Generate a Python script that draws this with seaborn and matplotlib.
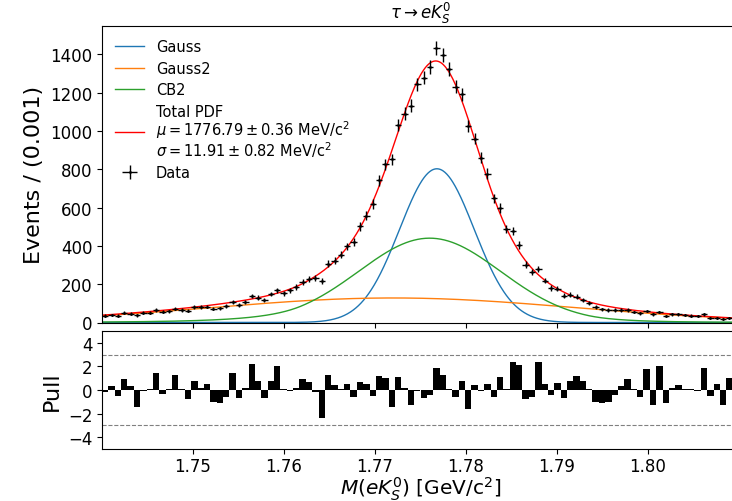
import numpy as np
import pandas as pd
import matplotlib
matplotlib.use("Agg")
import matplotlib.pyplot as plt
import seaborn as sns
from matplotlib.ticker import FixedLocator, FormatStrFormatter

# ---------------- data ----------------
x_lo, x_hi, n_bins = 1.74, 1.81, 100

counts = [36, 39, 36, 51, 46, 37, 51, 51, 65, 56,
          59, 72, 65, 62, 80, 80, 83, 72, 74, 86,
          107, 91, 107, 139, 130, 118, 148, 168, 153, 168,
          185, 210, 226, 231, 217, 306, 322, 353, 397, 418,
          502, 558, 617, 741, 825, 851, 1030, 1090, 1130, 1243,
          1278, 1334, 1432, 1397, 1322, 1231, 1191, 1025, 960, 860,
          776, 647, 598, 488, 476, 406, 301, 263, 280, 219,
          180, 176, 140, 145, 135, 118, 100, 80, 69, 65,
          65, 65, 65, 55, 48, 60, 43, 55, 34, 43,
          43, 39, 36, 34, 43, 25, 25, 17, 25, 30]

pulls = [-0.2, 0.3, -0.5, 0.9, 0.3, -1.4, -0.1, 0.05, 1.4, -0.3,
         0.05, 1.3, 0.05, -0.8, 0.8, 0.2, 0.5, -1.0, -1.1, -0.6,
         1.4, -0.7, 0.2, 2.2, 0.8, -0.7, 0.8, 2.0, 0.05, -0.05,
         0.2, 0.9, 0.7, -0.2, -2.4, 1.3, 0.4, 0.1, 0.5, -0.6,
         0.7, 0.5, -0.5, 1.2, 1.0, -1.4, 1.1, 0.2, -1.3, -0.05,
         -0.7, -0.4, 1.9, 1.3, 0.1, -0.6, 0.8, -1.6, 0.4, -0.1,
         0.5, -0.6, 1.1, 0.05, 2.4, 2.1, -0.8, -0.6, 2.4, 0.5,
         -0.4, 0.6, -0.7, 0.8, 1.2, 0.8, 0.05, -1.0, -1.1, -1.0,
         -0.4, 0.3, 0.9, 0.05, -0.6, 1.8, -1.3, 2.0, -1.1, 0.2,
         0.4, 0.1, 0.05, -0.05, 1.9, -0.5, 0.5, -1.3, 1.0, 0.5]

# fit-model parameters (events per bin)
gauss_amp, gauss_mu, gauss_sigma = 802.0, 1.7768, 0.0041
gauss2_amp, gauss2_mu, gauss2_sigma = 128.0, 1.772, 0.020
cb_amp, cb_mu, cb_sigma = 440.0, 1.7760, 0.0078
cb_aL, cb_nL, cb_aR, cb_nR = 1.8, 5.0, 2.2, 5.0

xticks = [1.75, 1.76, 1.77, 1.78, 1.79, 1.80]
yticks_top = [0, 200, 400, 600, 800, 1000, 1200, 1400]
yticks_pull = [-4, -2, 0, 2, 4]

legend_total = ("Total PDF\n"
                r"$\mu = 1776.79 \pm 0.36$ MeV/c$^2$" "\n"
                r"$\sigma = 11.91 \pm 0.82$ MeV/c$^2$")


def gauss(x, a, m, s):
    return a * np.exp(-0.5 * ((x - m) / s) ** 2)


def dcb(x, a, m, s, aL, nL, aR, nR):
    t = (x - m) / s
    out = np.exp(-0.5 * t ** 2)
    AL = (nL / aL) ** nL * np.exp(-0.5 * aL ** 2)
    BL = nL / aL - aL
    AR = (nR / aR) ** nR * np.exp(-0.5 * aR ** 2)
    BR = nR / aR - aR
    lm = t < -aL
    rm = t > aR
    out[lm] = AL * (BL - t[lm]) ** (-nL)
    out[rm] = AR * (BR + t[rm]) ** (-nR)
    return a * out


edges = np.linspace(x_lo, x_hi, n_bins + 1)
centers = 0.5 * (edges[1:] + edges[:-1])
bw = edges[1] - edges[0]
counts = np.array(counts, dtype=float)
errs = np.sqrt(counts)

xf = np.linspace(x_lo, x_hi, 1000)
g1 = gauss(xf, gauss_amp, gauss_mu, gauss_sigma)
g2 = gauss(xf, gauss2_amp, gauss2_mu, gauss2_sigma)
cb = dcb(xf, cb_amp, cb_mu, cb_sigma, cb_aL, cb_nL, cb_aR, cb_nR)
tot = g1 + g2 + cb

curves = pd.DataFrame({"x": np.concatenate([xf] * 4),
                       "y": np.concatenate([g1, g2, cb, tot]),
                       "comp": ["Gauss"] * len(xf) + ["Gauss2"] * len(xf)
                       + ["CB2"] * len(xf) + [legend_total] * len(xf)})

# ---------------- figure ----------------
W, H = 732, 502
fig = plt.figure(figsize=(W / 100, H / 100), dpi=100)
ax_l, ax_r = 102, 739
ax = fig.add_axes([ax_l / W, (H - 323.5) / H, (ax_r - ax_l) / W, (323.5 - 27) / H])
axp = fig.add_axes([ax_l / W, (H - 450) / H, (ax_r - ax_l) / W, (450 - 332) / H], sharex=ax)

palette = {"Gauss": "#1f77b4", "Gauss2": "#ff7f0e", "CB2": "#2ca02c", legend_total: "red"}
sns.lineplot(data=curves, x="x", y="y", hue="comp", palette=palette,
             estimator=None, sort=False, linewidth=1, ax=ax)
ax.errorbar(centers, counts, xerr=bw / 2, yerr=errs, fmt=".", color="black",
            markersize=2, elinewidth=1, capsize=0, label="Data")

handles, labels = ax.get_legend_handles_labels()
leg = ax.legend(handles, labels, loc="upper left", frameon=False, fontsize=10.5,
                labelspacing=0.45)
for t in leg.get_texts():
    t.set_linespacing(0.95)

ax.set_xlim(x_lo, x_hi)
ax.set_ylim(0, 1547)
ax.yaxis.set_major_locator(FixedLocator(yticks_top))
ax.tick_params(labelbottom=False, labelsize=12)
ax.set_xlabel("")
ax.set_ylabel("Events / (0.001)", fontsize=16)
ax.set_title(r"$\tau \rightarrow eK_S^0$", fontsize=12)

axp.bar(centers, pulls, width=bw, color="black", align="center")
axp.axhline(3, color="grey", linestyle="--", linewidth=0.8)
axp.axhline(-3, color="grey", linestyle="--", linewidth=0.8)
axp.set_ylim(-5, 5)
axp.yaxis.set_major_locator(FixedLocator(yticks_pull))
axp.xaxis.set_major_locator(FixedLocator(xticks))
axp.xaxis.set_major_formatter(FormatStrFormatter("%.2f"))
axp.tick_params(labelsize=12)
axp.tick_params(axis="x", pad=2)
axp.set_ylabel("Pull", fontsize=16)
axp.set_xlabel(r"$M(eK_S^0)$ [GeV/c$^2$]", fontsize=14.5, labelpad=0)

fig.align_ylabels([ax, axp])
fig.savefig("out.png", dpi=100)
